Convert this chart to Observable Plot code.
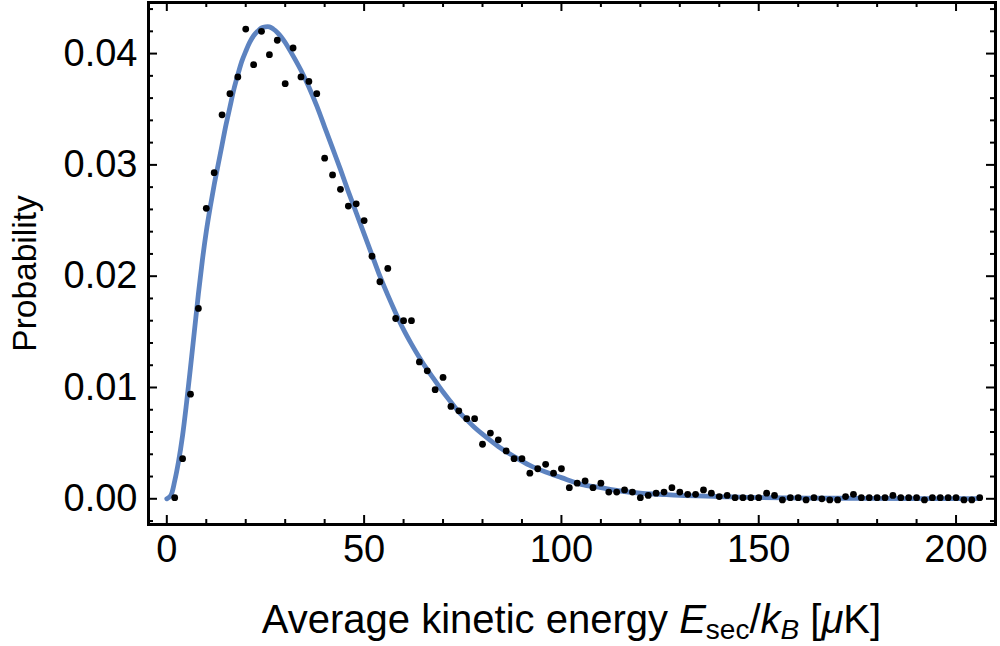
<!DOCTYPE html>
<html>
<head>
<meta charset="utf-8">
<script src="https://cdn.jsdelivr.net/npm/d3@7"></script>
<script src="https://cdn.jsdelivr.net/npm/@observablehq/plot@0.6"></script>
<style>
  html, body { margin: 0; padding: 0; background: #fff; }
  #chart { position: relative; width: 1000px; height: 646px; font-family: "Liberation Sans", Arial, sans-serif; color: #000; }
  #chart svg { display: block; }
  #xlabel { position: absolute; left: 148px; width: 847px; top: 599px; text-align: center; font-size: 40px; line-height: 40px; white-space: nowrap; }
  #xlabel sub { font-size: 0.7em; vertical-align: -0.22em; line-height: 0; }
</style>
</head>
<body>
<div id="chart"></div>
<script>
// Measured histogram: average kinetic energy (µK) and probability per bin
const energy = [
  2, 4, 6, 8, 10, 12, 14, 16, 18, 20, 22, 24, 26, 28, 30, 32, 34, 36, 38, 40,
  42, 44, 46, 48, 50, 52, 54, 56, 58, 60, 62, 64, 66, 68, 70, 72, 74, 76, 78, 80,
  82, 84, 86, 88, 90, 92, 94, 96, 98, 100, 102, 104, 106, 108, 110, 112, 114, 116, 118, 120,
  122, 124, 126, 128, 130, 132, 134, 136, 138, 140, 142, 144, 146, 148, 150, 152, 154, 156, 158, 160,
  162, 164, 166, 168, 170, 172, 174, 176, 178, 180, 182, 184, 186, 188, 190, 192, 194, 196, 198, 200,
  202, 204, 206
];
const probability = [
  0.0001, 0.0036, 0.0094, 0.0171, 0.0261, 0.0293, 0.0345, 0.0364, 0.0379, 0.0422,
  0.0390, 0.0420, 0.0399, 0.0412, 0.0373, 0.0405, 0.0379, 0.0375, 0.0364, 0.0306,
  0.0291, 0.0278, 0.0263, 0.0265, 0.0250, 0.0218, 0.0195, 0.0207, 0.0162, 0.0160,
  0.0160, 0.0123, 0.0115, 0.0098, 0.0109, 0.0083, 0.0079, 0.0072, 0.0072, 0.0049,
  0.0059, 0.0053, 0.0043, 0.0036, 0.0036, 0.0023, 0.0027, 0.0031, 0.0023, 0.0027,
  0.0010, 0.0014, 0.0016, 0.0010, 0.0014, 0.0006, 0.0006, 0.0008, 0.0006, 0.0001,
  0.0003, 0.0005, 0.0006, 0.0010, 0.0006, 0.0004, 0.0004, 0.0008, 0.0005, 0.0002,
  0.0003, 0.0001, 0.0001, 0.0001, 0.0001, 0.0005, 0.0003, -0.0001, 0.0001, 0.0001,
  -0.0001, 0.0001, 0.0000, -0.0001, -0.0001, 0.0002, 0.0004, 0.0001, 0.0001, 0.0001,
  0.0001, 0.0003, 0.0001, 0.0001, 0.0001, -0.0001, 0.0001, 0.0001, 0.0001, 0.0001,
  -0.0001, -0.0001, 0.0001
];

// Fitted distribution, sampled along the energy axis
const fitEnergy = [
  0, 1, 2, 3, 4, 5, 6, 7, 8, 9, 10, 11, 12, 13, 14, 15, 16, 17, 18, 19,
  20, 21, 22, 23, 24, 25, 26, 27, 28, 29, 30, 32, 34, 36, 38, 40, 42, 44, 46, 48,
  50, 52, 54, 56, 58, 60, 62, 64, 66, 68, 70, 72, 74, 76, 78, 80, 84, 88, 92, 96,
  100, 105, 110, 115, 120, 125, 130, 140, 150, 170, 190, 206
];
const fitProbability = [
  0.0000, 0.0003, 0.0016, 0.0034, 0.0057, 0.0086, 0.0118, 0.0151, 0.0184, 0.0214,
  0.0240, 0.0262, 0.0282, 0.0300, 0.0318, 0.0336, 0.0352, 0.0368, 0.0381, 0.0393,
  0.0402, 0.0410, 0.0416, 0.0420, 0.0423, 0.0424, 0.0424, 0.0422, 0.0419, 0.0415,
  0.0410, 0.0398, 0.0385, 0.0370, 0.0353, 0.0334, 0.0315, 0.0296, 0.0276, 0.0257,
  0.0238, 0.0219, 0.0200, 0.0183, 0.0167, 0.0152, 0.0139, 0.0127, 0.0116, 0.0106,
  0.0096, 0.0087, 0.0078, 0.0071, 0.0064, 0.0058, 0.0047, 0.0038, 0.0030, 0.0024,
  0.0019, 0.0013, 0.0010, 0.0007, 0.0005, 0.0004, 0.0003, 0.0002, 0.0001, 0.00005,
  0.00002, 0.00001
];

// Axis ticks
const xMajor = [0, 50, 100, 150, 200];
const xMinor = [10, 20, 30, 40, 60, 70, 80, 90, 110, 120, 130, 140, 160, 170, 180, 190, 210];
const yMajor = [0, 0.01, 0.02, 0.03, 0.04];
const yMinor = [-0.002, 0.002, 0.004, 0.006, 0.008, 0.012, 0.014, 0.016, 0.018, 0.022, 0.024,
  0.026, 0.028, 0.032, 0.034, 0.036, 0.038, 0.042, 0.044];

const points = energy.map((e, i) => ({e, p: probability[i]}));
const fit = fitEnergy.map((e, i) => ({e, p: fitProbability[i]}));

// Plot geometry
const W = 1000, H = 590;
const M = {left: 148, right: 5, top: 2, bottom: 66};
const frameW = W - M.left - M.right;
const frameH = H - M.top - M.bottom;
const MAJOR = 9, MINOR = 5;

// Inward frame ticks: full-span tick marks trimmed down with insets
const ticksX = (values, len) => [
  Plot.tickX(values, {x: (d) => d, insetTop: frameH - len, stroke: "#000", strokeWidth: 2}),
  Plot.tickX(values, {x: (d) => d, insetBottom: frameH - len, stroke: "#000", strokeWidth: 2})
];
const ticksY = (values, len) => [
  Plot.tickY(values, {y: (d) => d, insetRight: frameW - len, stroke: "#000", strokeWidth: 2}),
  Plot.tickY(values, {y: (d) => d, insetLeft: frameW - len, stroke: "#000", strokeWidth: 2})
];

const chart = Plot.plot({
  width: W,
  height: H,
  marginLeft: M.left,
  marginRight: M.right,
  marginTop: M.top,
  marginBottom: M.bottom,
  style: {fontFamily: "'Liberation Sans', Arial, sans-serif", color: "#000", background: "#fff", overflow: "visible"},
  x: {domain: [-4.64, 210], axis: null},
  y: {domain: [-0.00231, 0.04459], axis: null},
  marks: [
    Plot.line(fit, {x: "e", y: "p", stroke: "#5d83c0", strokeWidth: 4.8, curve: "catmull-rom"}),
    Plot.dot(points, {x: "e", y: "p", r: 3.4, fill: "#000", stroke: null}),
    ...ticksX(xMinor, MINOR),
    ...ticksX(xMajor, MAJOR),
    ...ticksY(yMinor, MINOR),
    ...ticksY(yMajor, MAJOR),
    // tick labels
    Plot.axisX(xMajor, {anchor: "bottom", tickSize: 0, tickPadding: 11, fontSize: 38, label: null}),
    Plot.axisY(yMajor, {anchor: "left", tickSize: 0, tickPadding: 11, fontSize: 38, label: null, tickFormat: d3.format(".2f")}),
    Plot.text(["Probability"], {frameAnchor: "left", textAnchor: "middle", rotate: -90, dx: -123, dy: 10, fontSize: 33.5, fill: "#000"}),
    Plot.frame({stroke: "#000", strokeWidth: 3})
  ]
});

const root = document.getElementById("chart");
root.appendChild(chart);
const xlabel = document.createElement("div");
xlabel.id = "xlabel";
xlabel.innerHTML = 'Average kinetic energy <i>E</i><sub>sec</sub>/<i>k</i><sub><i>B</i></sub> [<i>μ</i>K]';
root.appendChild(xlabel);
</script>
</body>
</html>
